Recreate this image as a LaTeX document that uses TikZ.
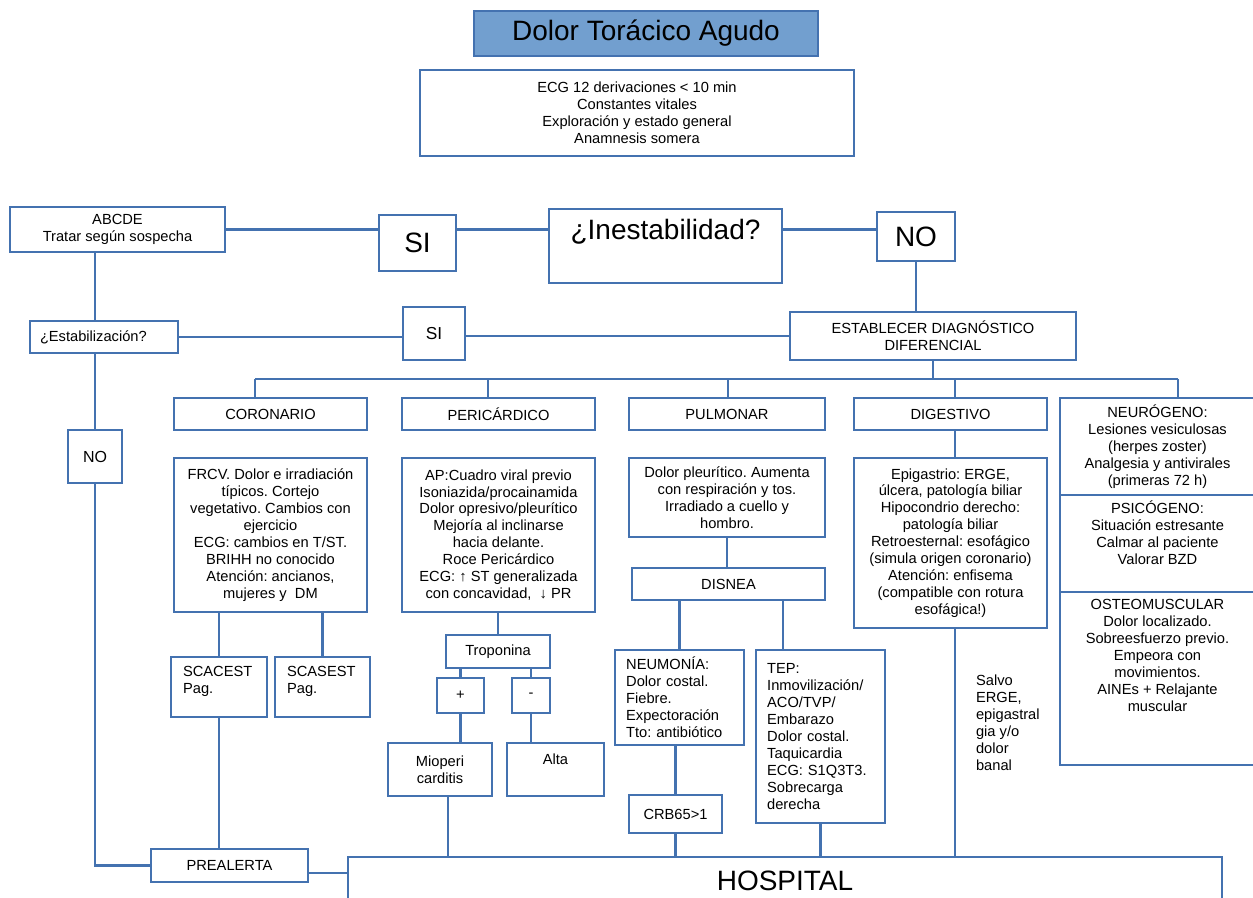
\documentclass[tikz,border=0pt]{standalone}
\usepackage{fontspec}
\setmainfont{Liberation Sans}
\frenchspacing

\definecolor{lineblue}{RGB}{68,114,176}
\definecolor{titlefill}{RGB}{114,159,207}

\tikzset{every picture/.style={line width=1.6pt}}
\tikzset{
  box/.style={draw=lineblue, line width=1.6pt, inner sep=0pt, align=center, font=\fontsize{11}{12.7}\selectfont},
  sz/.style 2 args={minimum width={#1*0.75pt}, minimum height={#2*0.75pt}},
  txt/.style={inner sep=0pt, align=center, font=\fontsize{11}{12.7}\selectfont},
  big/.style={font=\fontsize{21}{25}\selectfont},
  mid/.style={font=\fontsize{13}{15}\selectfont},
  titlebox/.style={box, big, fill=titlefill},
  leftbox/.style={align=left, text width=#1},
  link/.style={draw=lineblue, line width=1.6pt}
}

\begin{document}
\begin{tikzpicture}[x=0.75pt,y=0.75pt,yscale=-1,xscale=1]
\useasboundingbox (0,0) rectangle (1253,898);

%Shape: Rectangle 
\node[titlebox, sz={344}{45}] (title) at (646,33.5) {Dolor Torácico Agudo};
%Shape: Rectangle 
\node[box, sz={434}{86}] (ecg) at (637,113) {ECG 12 derivaciones < 10 min\\Constantes vitales\\Exploración y estado general\\Anamnesis somera};

%Shape: Rectangle 
\node[box, sz={215}{45}] (abcde) at (117.5,229.5) {ABCDE\\Tratar según sospecha};
%Shape: Rectangle 
\node[box, big, sz={77}{56}] (siA) at (417.5,243) {SI};
%Shape: Rectangle 
\node[box, sz={233}{74}] (inest) at (665.5,246) {};
% Text Node
\node[txt, big, anchor=base] (inestlbl) at (665.5,240) {¿Inestabilidad?};
%Shape: Rectangle 
\node[box, big, sz={78}{49}] (noA) at (916,236.5) {NO};

%Shape: Rectangle 
\node[box, sz={148}{32}, leftbox=96pt] (estab) at (104,337) {¿Estabilización?};
%Shape: Rectangle 
\node[box, mid, sz={62}{53}] (siB) at (434,333.5) {SI};
%Shape: Rectangle 
\node[box, sz={286}{48}] (establecer) at (933,336) {ESTABLECER DIAGNÓSTICO\\DIFERENCIAL};
%Shape: Rectangle 
\node[box, font=\fontsize{12}{14}\selectfont, sz={54}{53}] (noB) at (95,456.5) {NO};

%Shape: Rectangle 
\node[box, sz={193}{32}] (coronario) at (270.5,414) {CORONARIO};
\node[box, sz={193}{32}] (pericardico) at (498.5,414) {PERICÁRDICO};
\node[box, sz={196}{32}] (pulmonar) at (727,414) {PULMONAR};
\node[box, sz={193}{32}] (digestivo) at (950.5,414) {DIGESTIVO};

%Shape: Rectangle 
\node[box, sz={195}{97}] (neurogeno) at (1157.5,446.5) {NEURÓGENO:\\Lesiones vesiculosas\\(herpes zoster)\\Analgesia y antivirales\\(primeras 72 h)};
\node[box, sz={195}{97}] (psicogeno) at (1157.5,543.5) {};
\node[box, sz={195}{173}] (osteo) at (1157.5,678.5) {};
% Text Node
\node[txt, anchor=base] (psicolbl) at (1157.5,564) {PSICÓGENO:\\Situación estresante\\Calmar al paciente\\Valorar BZD};
% Text Node
\node[txt, anchor=base] (osteolbl) at (1157.5,711.5) {OSTEOMUSCULAR\\Dolor localizado.\\Sobreesfuerzo previo.\\Empeora con\\movimientos.\\AINEs + Relajante\\muscular};

%Shape: Rectangle 
\node[box, sz={193}{154}] (frcv) at (270.5,535) {FRCV. Dolor e irradiación\\típicos. Cortejo\\vegetativo. Cambios con\\ejercicio\\ECG: cambios en T/ST.\\BRIHH no conocido\\Atención: ancianos,\\mujeres y \ DM};
\node[box, sz={193}{154}] (ap) at (498.5,535) {AP:Cuadro viral previo\\Isoniazida/procainamida\\Dolor opresivo/pleurítico\\Mejoría al inclinarse\\hacia delante.\\Roce Pericárdico\\ECG: ↑ ST generalizada\\con concavidad, \ ↓ PR};
\node[box, sz={196}{79}] (dolorp) at (727,497.5) {Dolor pleurítico. Aumenta\\con respiración y tos.\\Irradiado a cuello y\\hombro.};
\node[box, sz={193}{170}] (epig) at (950.5,543) {Epigastrio: ERGE,\\úlcera, patología biliar\\Hipocondrio derecho:\\patología biliar\\Retroesternal: esofágico\\(simula origen coronario)\\Atención: enfisema\\(compatible con rotura\\esofágica!)};

%Shape: Rectangle 
\node[box, sz={193}{32}] (disnea) at (728.5,584) {DISNEA};
\node[box, sz={129}{95}, leftbox=80pt] (neumonia) at (679.5,697.5) {NEUMONÍA:\\Dolor costal.\\Fiebre.\\Expectoración\\Tto: antibiótico};
\node[box, sz={129}{173}, leftbox=80pt] (tep) at (820.5,736.5) {TEP:\\Inmovilización/\\ACO/TVP/\\Embarazo\\Dolor costal.\\Taquicardia\\ECG: S1Q3T3.\\Sobrecarga\\derecha};
\node[box, sz={93}{38}] (crb) at (675.5,814) {CRB65>1};

%Shape: Rectangle 
\node[box, sz={104}{33}] (trop) at (498,651.5) {Troponina};
\node[box, sz={47}{35}] (plus) at (460.5,695.5) {+};
\node[box, sz={38}{35}] (minus) at (531,695.5) {-};
\node[box, sz={104}{53}] (mioperi) at (440,769.5) {Mioperi\\carditis};
\node[box, sz={97}{53}] (alta) at (555.5,769.5) {};
% Text Node
\node[txt, anchor=base] (altalbl) at (555.5,764) {Alta};

%Shape: Rectangle 
\node[box, sz={96}{60}] (scacest) at (219,687) {};
\node[box, sz={95}{60}] (scasest) at (322.5,687) {};
% Text Node
\node[txt, align=left, anchor=base west] (scacestlbl) at (182,693) {SCACEST\\Pag.};
% Text Node
\node[txt, align=left, anchor=base west] (scasestlbl) at (286,693) {SCASEST\\Pag.};
%Shape: Rectangle 
\node[box, sz={157}{33}] (prealerta) at (229.5,865.5) {PREALERTA};
%Shape: Rectangle 
\node[box, sz={874}{73}] (hosp) at (785,893.5) {};
% Text Node
\node[txt, big, anchor=base] (hosplbl) at (785,890) {HOSPITAL};
% Text Node
\node[txt, align=left, anchor=base west] (salvo) at (975,770) {Salvo\\ERGE,\\epigastral\\gia y/o\\dolor\\banal};

%Straight Lines 
\coordinate (busL) at (255,379);
\coordinate (busR) at (1178,379);
\coordinate (busP) at (488,379);
\coordinate (busU) at (728,379);
\coordinate (busD) at (955,379);
\coordinate (tepX) at (783,0);
\coordinate (mioX) at (448,0);
\coordinate (preY) at (0,873);

\draw[link] (abcde.east) -- (siA.west |- abcde.east);
\draw[link] (siA.east |- abcde.east) -- (inest.west |- abcde.east);
\draw[link] (inest.east |- abcde.east) -- (noA.west |- abcde.east);
\draw[link] (noA.south) -- (noA.south |- establecer.north);
\draw[link] (noB.north |- abcde.south) -- (noB.north |- estab.north);
\draw[link] (noB.north |- estab.south) -- (noB.north);
\draw[link] (noB.south) -- (noB.south |- prealerta.west) -- (prealerta.west);
\draw[link] (estab.east) -- (siB.west |- estab.east);
\draw[link] (siB.east |- establecer.west) -- (establecer.west);

%Straight Lines 
\draw[link] (establecer.south) -- (establecer.south |- busL);
\draw[link] (busL) -- (busR);
\draw[link] (busL) -- (busL |- coronario.north);
\draw[link] (busP) -- (busP |- pericardico.north);
\draw[link] (busU) -- (busU |- pulmonar.north);
\draw[link] (busD) -- (busD |- digestivo.north);
\draw[link] (busR) -- (busR |- neurogeno.north);
\draw[link] (busD |- digestivo.south) -- (busD |- epig.north);
\draw[link] (busD |- epig.south) -- (busD |- hosp.north);

%Straight Lines 
\draw[link] (scacest.north |- frcv.south) -- (scacest.north);
\draw[link] (scasest.north |- frcv.south) -- (scasest.north);
\draw[link] (scacest.south) -- (scacest.south |- prealerta.north);
\draw[link] (prealerta.east |- preY) -- (hosp.west |- preY);

%Straight Lines 
\draw[link] (trop.north |- ap.south) -- (trop.north);
\draw[link] (plus.north |- trop.south) -- (plus.north);
\draw[link] (minus.north |- trop.south) -- (minus.north);
\draw[link] (plus.south) -- (plus.south |- mioperi.north);
\draw[link] (minus.south) -- (minus.south |- alta.north);
\draw[link] (mioX |- mioperi.south) -- (mioX |- hosp.north);

%Straight Lines 
\draw[link] (dolorp.south) -- (dolorp.south |- disnea.north);
\draw[link] (neumonia.north |- disnea.south) -- (neumonia.north);
\draw[link] (tepX |- disnea.south) -- (tepX |- tep.north);
\draw[link] (crb.north |- neumonia.south) -- (crb.north);
\draw[link] (crb.south) -- (crb.south |- hosp.north);
\draw[link] (tep.south) -- (tep.south |- hosp.north);

\end{tikzpicture}
\end{document}
